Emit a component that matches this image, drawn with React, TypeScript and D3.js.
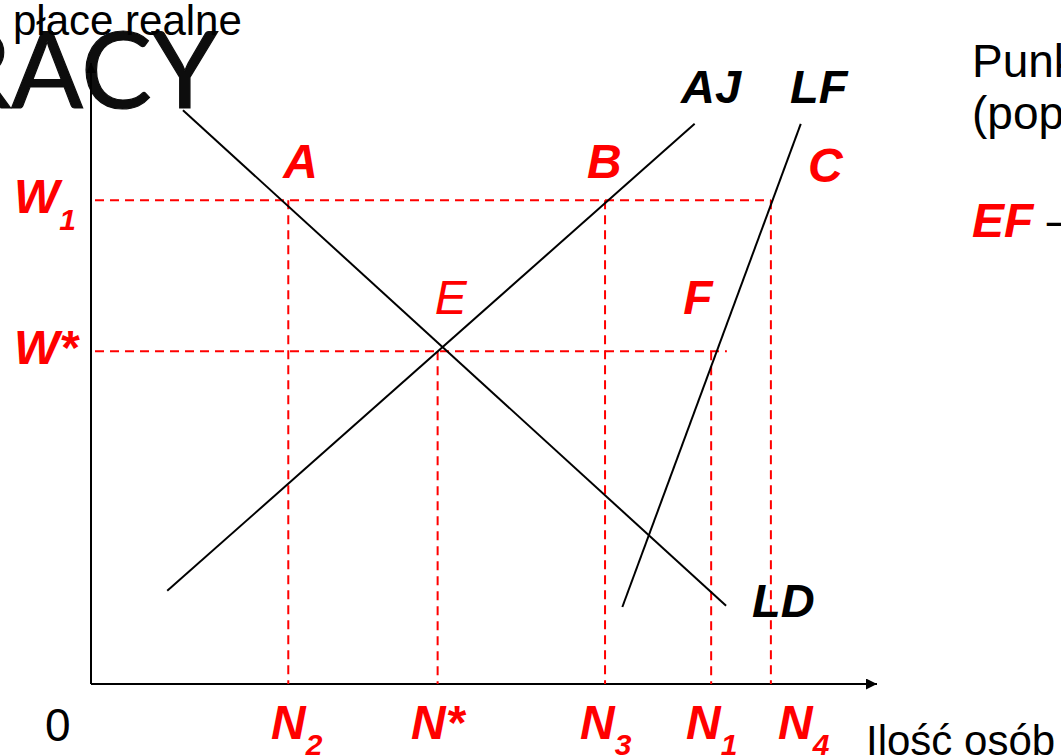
import React from "react";
import * as d3 from "d3";

// ---- data ----
const Q_LABELS = ["N2", "N*", "N3", "N1", "N4"];
const Q_VALUES = [25.1, 44.1, 65.4, 78.9, 86.5];
const Q_FROM_W = ["W1", "W*", "W1", "W*", "W1"]; // wage level each dashed vertical starts from

const W_LABELS = ["W1", "W*"];
const W_VALUES = [77.9, 53.6];
const W_LINE_END = [86.5, 80.9];

const POINT_LABELS = ["A", "B", "C", "E", "F"];
const POINT_Q = ["N2", "N3", "N4", "N*", "N1"];
const POINT_W = ["W1", "W1", "W1", "W*", "W*"];

const CURVE_NAMES = ["LD", "AJ", "LF"];
const LD: [number, number][] = [[11.7, 92.4], [80.8, 12.6]];
const AJ: [number, number][] = [[9.7, 15.0], [76.8, 90.2]];
const LF: [number, number][] = [[67.6, 12.4], [90.3, 90.2]];

const Y_TITLE = "płace realne";
const X_TITLE = "Ilość osób";
const ORIGIN = "0";
const BG_TITLE = "PRACY";
const SIDE_LINES = ["Punk", "(pop"];

const W = 1061;
const H = 756;
const RED = "#ff0000";
const FONT = "'Liberation Sans', Arial, sans-serif";

export default function App() {
  const x = d3.scaleLinear().domain([0, 100]).range([91, 877]);
  const y = d3.scaleLinear().domain([0, 100]).range([684, 63]);
  const line = d3
    .line<[number, number]>()
    .x((d) => x(d[0]))
    .y((d) => y(d[1]));

  const qVal = (n: string) => Q_VALUES[Q_LABELS.indexOf(n)];
  const wVal = (n: string) => W_VALUES[W_LABELS.indexOf(n)];

  const curves: Record<string, [number, number][]> = { LD, AJ, LF };
  const curveLabelPos: Record<string, [number, number]> = {
    AJ: [681, 103],
    LF: [790, 103],
    LD: [752, 617],
  };
  const pointOffset: Record<string, [number, number]> = {
    A: [-5, -22],
    B: [-18, -22],
    C: [37, -18],
    E: [-3, -37],
    F: [-28, -37],
  };
  const qLabelX: Record<string, number> = {
    N2: 271,
    "N*": 411,
    N3: 580,
    N1: 686,
    N4: 778,
  };

  const dash = "9,6";

  const renderSub = (label: string, subSize: number, dy: number) => {
    const main = label[0];
    const rest = label.slice(1);
    if (rest === "*") return main + "*";
    return (
      <>
        {main}
        <tspan fontSize={subSize} dy={dy}>
          {rest}
        </tspan>
      </>
    );
  };

  return (
    <div style={{ position: "absolute", left: 0, top: 0, width: W, height: H, overflow: "hidden", background: "#fff" }}>
      <svg width={W} height={H} style={{ display: "block" }}>
        <defs>
          <marker id="arrowY" viewBox="0 0 10 10" refX="10" refY="5" markerWidth="5" markerHeight="5" orient="auto" markerUnits="strokeWidth">
            <path d="M0,0 L10,5 L0,10 z" fill="#000" />
          </marker>
        </defs>

        {/* background slide title */}
        <text x={218} y={108} textAnchor="end" fontFamily="Lato, 'DejaVu Sans', sans-serif" fontSize={106} fill="#0d0d0d" stroke="#0d0d0d" strokeWidth={1.2}>
          {BG_TITLE}
        </text>

        {/* y-axis title */}
        <text x={13} y={35} fontFamily={FONT} fontSize={42} fill="#000">
          {Y_TITLE}
        </text>

        {/* axes */}
        <line x1={x(0)} y1={y(0)} x2={x(0)} y2={y(100)} stroke="#000" strokeWidth={2} markerEnd="url(#arrowY)" />
        <line x1={x(0)} y1={y(0)} x2={x(100)} y2={y(0)} stroke="#000" strokeWidth={2.2} markerEnd="url(#arrowY)" />

        {/* dashed horizontal wage lines */}
        {W_LABELS.map((w, i) => (
          <line
            key={w}
            x1={x(0) + 4}
            x2={x(W_LINE_END[i])}
            y1={y(W_VALUES[i])}
            y2={y(W_VALUES[i])}
            stroke={RED}
            strokeWidth={2}
            strokeDasharray={dash}
          />
        ))}

        {/* dashed vertical quantity lines */}
        {Q_LABELS.map((q, i) => (
          <line
            key={q}
            x1={x(Q_VALUES[i])}
            x2={x(Q_VALUES[i])}
            y1={y(wVal(Q_FROM_W[i]))}
            y2={y(0)}
            stroke={RED}
            strokeWidth={2}
            strokeDasharray={dash}
          />
        ))}

        {/* curves */}
        {CURVE_NAMES.map((c) => (
          <path key={c} d={line(curves[c]) || ""} fill="none" stroke="#000" strokeWidth={2} />
        ))}

        {/* curve labels */}
        {CURVE_NAMES.map((c) => (
          <text
            key={c}
            x={curveLabelPos[c][0]}
            y={curveLabelPos[c][1]}
            fontFamily={FONT}
            fontSize={47}
            fontWeight="bold"
            fontStyle="italic"
            fill="#000"
          >
            {c}
          </text>
        ))}

        {/* point labels */}
        {POINT_LABELS.map((p, i) => (
          <text
            key={p}
            x={x(qVal(POINT_Q[i])) + pointOffset[p][0]}
            y={y(wVal(POINT_W[i])) + pointOffset[p][1]}
            fontFamily={FONT}
            fontSize={48}
            fontWeight={p === "E" ? "normal" : "bold"}
            fontStyle="italic"
            fill={RED}
          >
            {p}
          </text>
        ))}

        {/* wage labels */}
        {W_LABELS.map((w, i) => (
          <text
            key={w}
            x={14}
            y={y(W_VALUES[i]) + 13}
            fontFamily={FONT}
            fontSize={48}
            fontWeight="bold"
            fontStyle="italic"
            fill={RED}
          >
            {renderSub(w, 30, 17)}
          </text>
        ))}

        {/* quantity labels */}
        {Q_LABELS.map((q) => (
          <text
            key={q}
            x={qLabelX[q]}
            y={739}
            fontFamily={FONT}
            fontSize={48}
            fontWeight="bold"
            fontStyle="italic"
            fill={RED}
          >
            {renderSub(q, 30, 16)}
          </text>
        ))}

        {/* origin */}
        <text x={45} y={741} fontFamily={FONT} fontSize={46} fill="#000">
          {ORIGIN}
        </text>

        {/* x-axis title */}
        <text x={866} y={755} fontFamily={FONT} fontSize={42} fill="#000">
          {X_TITLE}
        </text>

        {/* side text */}
        {SIDE_LINES.map((s, i) => (
          <text key={s} x={972} y={77 + i * 52} fontFamily={FONT} fontSize={46} fill="#000">
            {s}
          </text>
        ))}
        <text x={972} y={237} fontFamily={FONT} fontSize={48} fill="#000">
          <tspan fill={RED} fontWeight="bold" fontStyle="italic">
            EF
          </tspan>
          <tspan> –</tspan>
        </text>
      </svg>
    </div>
  );
}
